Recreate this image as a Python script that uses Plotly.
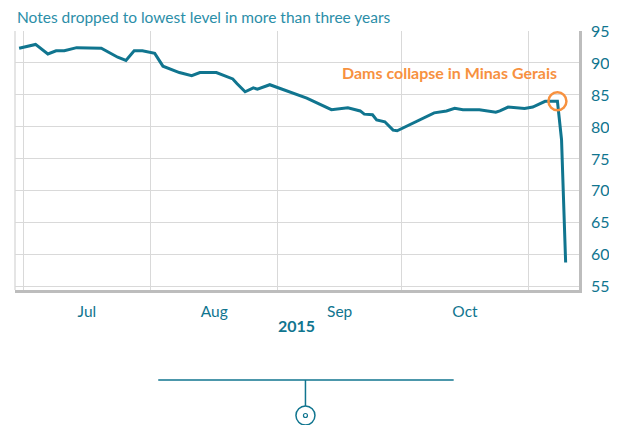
import plotly.graph_objects as go

# ---- data ----
dates = [
    "2015-06-30", "2015-07-04", "2015-07-07", "2015-07-09", "2015-07-11", "2015-07-14",
    "2015-07-20", "2015-07-24", "2015-07-26", "2015-07-28", "2015-07-30",
    "2015-08-02", "2015-08-04", "2015-08-08", "2015-08-11", "2015-08-13", "2015-08-17",
    "2015-08-21", "2015-08-22", "2015-08-24", "2015-08-26", "2015-08-27", "2015-08-30",
    "2015-09-02", "2015-09-04", "2015-09-08", "2015-09-14", "2015-09-18", "2015-09-21",
    "2015-09-22", "2015-09-24", "2015-09-25", "2015-09-27", "2015-09-29", "2015-09-30",
    "2015-10-03", "2015-10-04", "2015-10-09", "2015-10-12", "2015-10-14", "2015-10-16",
    "2015-10-20", "2015-10-24", "2015-10-25", "2015-10-27", "2015-10-31",
    "2015-11-02", "2015-11-05", "2015-11-08", "2015-11-09", "2015-11-10",
]
prices = [
    92.3, 92.9, 91.4, 91.9, 91.9, 92.4,
    92.3, 90.9, 90.4, 91.9, 91.9,
    91.5, 89.5, 88.5, 88.0, 88.5, 88.5,
    87.5, 86.8, 85.5, 86.1, 85.9, 86.6,
    85.9, 85.4, 84.5, 82.7, 83.0, 82.5,
    82.0, 81.9, 81.1, 80.8, 79.5, 79.4,
    80.3, 80.6, 82.2, 82.5, 82.9, 82.7,
    82.7, 82.3, 82.5, 83.1, 82.9,
    83.1, 84.0, 84.0, 78.0, 58.8,
]
event_date = "2015-11-08"
event_value = 84.0
event_label = "Dams collapse in Minas Gerais"
title_text = "Notes dropped to lowest level in more than three years"
year_label = "2015"
y_ticks = [55, 60, 65, 70, 75, 80, 85, 90, 95]

TEAL = "#10758f"
TEAL_LIGHT = "#2b8ea8"
ORANGE = "#f7913f"
FONT = "Lato"

# page body has an 8px default margin; plot area in window px: x 15..582, y 31..290
OFF = 8
PL, PR, PT, PB = 15, 582, 31, 290

fig = go.Figure()
fig.add_trace(go.Scatter(
    x=dates, y=prices, mode="lines",
    line=dict(color=TEAL, width=3), hoverinfo="skip", showlegend=False,
))

def px(xp):
    return (xp - PL) / (PR - PL)

def py(yp):
    return (PB - yp) / (PB - PT)

# left edge line
fig.add_shape(type="line", xref="paper", yref="paper", x0=0, x1=0, y0=0, y1=1,
              line=dict(color="#dcdcdc", width=1.5), layer="below")

# event circle
fig.add_shape(type="circle", xref="x", yref="y",
              xsizemode="pixel", ysizemode="pixel",
              xanchor=event_date, yanchor=event_value,
              x0=-9, x1=9, y0=-9, y1=9,
              line=dict(color=ORANGE, width=2.5))

fig.add_annotation(x=px(562), y=py(72), xref="paper", yref="paper",
                   xanchor="right", yanchor="middle", showarrow=False,
                   text=event_label,
                   font=dict(family=FONT, size=16, color=ORANGE, weight="bold"))

# title
fig.add_annotation(x=0, y=py(17), xref="paper", yref="paper",
                   xanchor="left", yanchor="middle", showarrow=False,
                   text=title_text,
                   font=dict(family=FONT, size=15.5, color=TEAL_LIGHT))

# year label
fig.add_annotation(x=px(298), y=py(325), xref="paper", yref="paper",
                   xanchor="center", yanchor="middle", showarrow=False,
                   text="<b>" + year_label + "</b>",
                   font=dict(family=FONT, size=16, color=TEAL))

# bottom decoration (slider-like handle)
fig.add_shape(type="line", xref="paper", yref="paper",
              x0=px(159), x1=px(456), y0=py(380), y1=py(380),
              line=dict(color=TEAL, width=1.5))
fig.add_shape(type="line", xref="paper", yref="paper",
              x0=px(307), x1=px(307), y0=py(380), y1=py(406),
              line=dict(color=TEAL, width=1.5))
fig.add_shape(type="circle", xref="paper", yref="paper",
              xsizemode="pixel", ysizemode="pixel",
              xanchor=px(307), yanchor=py(415.5),
              x0=-9.5, x1=9.5, y0=-9.5, y1=9.5,
              line=dict(color=TEAL, width=1.5))
fig.add_shape(type="circle", xref="paper", yref="paper",
              xsizemode="pixel", ysizemode="pixel",
              xanchor=px(307), yanchor=py(415.5),
              x0=-2, x1=2, y0=-2, y1=2,
              line=dict(color=TEAL, width=1.2))

W, H = 617 - OFF, 425 - OFF
fig.update_layout(
    width=W, height=H,
    margin=dict(l=PL - OFF, r=W + OFF - PR, t=PT - OFF, b=H + OFF - PB),
    plot_bgcolor="white", paper_bgcolor="white",
    font=dict(family=FONT, color=TEAL),
    xaxis=dict(
        type="date",
        range=["2015-06-29", "2015-11-13 06:00"],
        dtick="M1", tick0="2015-07-01",
        tickformat="%b", ticklabelmode="period",
        showgrid=True, gridcolor="#d9d9d9", gridwidth=1,
        showline=True, linecolor="#bdbdbd", linewidth=2.5,
        ticks="", ticklabelstandoff=6,
        tickfont=dict(family=FONT, size=15.5, color=TEAL),
        zeroline=False, fixedrange=True,
    ),
    yaxis=dict(
        side="right", range=[54.5, 95],
        tickvals=y_ticks,
        showgrid=True, gridcolor="#d9d9d9", gridwidth=1,
        showline=True, linecolor="#bdbdbd", linewidth=2.5,
        ticks="", ticklabelstandoff=6,
        tickfont=dict(family=FONT, size=16, color=TEAL),
        zeroline=False, fixedrange=True,
    ),
)

fig.write_html("out.html")
